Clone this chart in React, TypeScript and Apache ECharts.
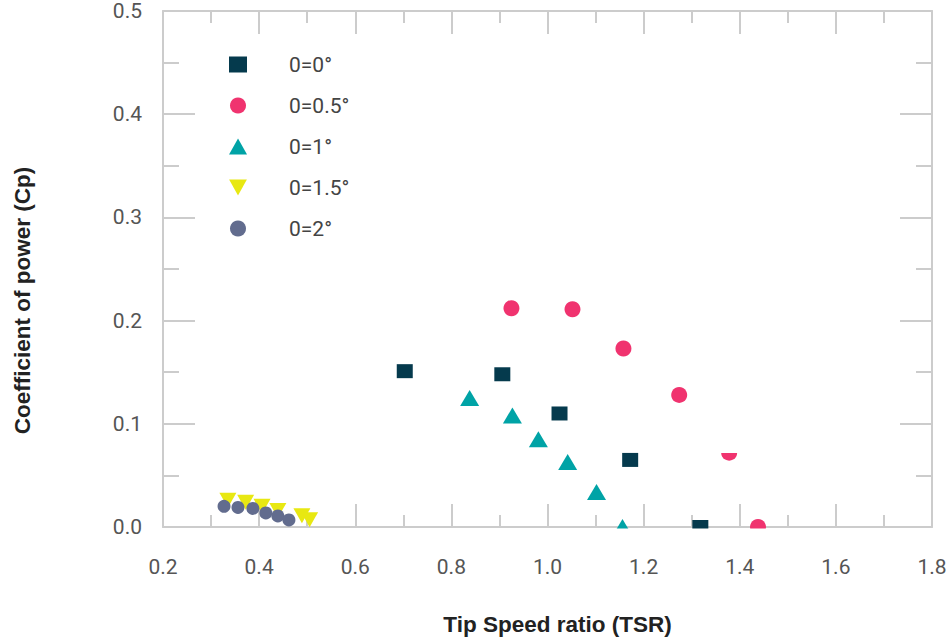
import React, { useEffect, useRef } from "react";
import * as echarts from "echarts";

const seriesNames = ["0=0°", "0=0.5°", "0=1°", "0=1.5°", "0=2°"];
const seriesColors = ["#053A4D", "#F0336F", "#00A3A6", "#E8E812", "#626C8E"];

const tsr0 = [0.703, 0.906, 1.025, 1.172, 1.318];
const cp0 = [0.151, 0.148, 0.11, 0.065, 0.0];

const tsr05 = [0.925, 1.052, 1.158, 1.274, 1.378, 1.438];
const cp05 = [0.212, 0.211, 0.173, 0.128, 0.072, 0.0];

const tsr1 = [0.838, 0.927, 0.981, 1.042, 1.102, 1.156];
const cp1 = [0.125, 0.108, 0.085, 0.063, 0.034, 0.0];

const tsr15 = [0.335, 0.372, 0.406, 0.439, 0.489, 0.505];
const cp15 = [0.026, 0.024, 0.02, 0.016, 0.011, 0.007];

const tsr2 = [0.327, 0.356, 0.387, 0.414, 0.439, 0.462];
const cp2 = [0.02, 0.019, 0.018, 0.0136, 0.0107, 0.0068];

const xTitle = "Tip Speed ratio (TSR)";
const yTitle = "Coefficient of power (Cp)";

const zip = (xs: number[], ys: number[]) => xs.map((x, i) => [x, ys[i]]);

export default function App() {
  const ref = useRef<HTMLDivElement>(null);
  useEffect(() => {
    if (!ref.current) return;
    const chart = echarts.init(ref.current, null, { renderer: "svg" });
    const axisColor = "#cccccc";
    const labelStyle = {
      fontFamily: "Roboto",
      fontWeight: 400,
      fontSize: 21,
      color: "#555555",
    };
    const xBase = {
      type: "value",
      min: 0.2,
      max: 1.8,
      interval: 0.2,
      splitLine: { show: false },
      axisLine: { show: true, onZero: false, lineStyle: { color: axisColor, width: 2 } },
      axisTick: { show: true, inside: true, length: 23, lineStyle: { color: axisColor, width: 2 } },
      minorTick: { show: true, splitNumber: 2, length: 12, lineStyle: { color: axisColor, width: 2 } },
    };
    const yBase = {
      type: "value",
      min: 0,
      max: 0.5,
      interval: 0.1,
      splitLine: { show: false },
      axisLine: { show: true, onZero: false, lineStyle: { color: axisColor, width: 2 } },
      axisTick: { show: true, inside: true, length: 32, lineStyle: { color: axisColor, width: 2 } },
      minorTick: { show: true, splitNumber: 2, length: 16, lineStyle: { color: axisColor, width: 2 } },
    };
    const symbols = ["rect", "circle", "triangle", "path://M0,0L10,0L5,9Z", "circle"];
    const sizes: any[] = [[16, 14], 16, [19, 16], [17, 15], 13];
    const datas = [zip(tsr0, cp0), zip(tsr05, cp05), zip(tsr1, cp1), zip(tsr15, cp15), zip(tsr2, cp2)];
    chart.setOption({
      animation: false,
      grid: { left: 163, right: 20, top: 11, bottom: 115 },
      legend: {
        orient: "vertical",
        left: 224,
        top: 49,
        itemWidth: 18,
        itemHeight: 16,
        itemGap: 20,
        textStyle: {
          fontFamily: "Roboto",
          fontWeight: 400,
          fontSize: 21,
          color: "#444444",
          padding: [0, 0, 0, 37],
        },
        data: seriesNames,
      },
      xAxis: [
        {
          ...xBase,
          position: "bottom",
          name: xTitle,
          nameLocation: "middle",
          nameGap: 86,
          nameTextStyle: {
            fontFamily: "Liberation Sans",
            fontWeight: "bold",
            fontSize: 22.5,
            color: "#222222",
            padding: [0, 0, 0, 20],
          },
          axisLabel: { ...labelStyle, margin: 29, formatter: (v: number) => v.toFixed(1) },
        },
        { ...xBase, position: "top", axisLabel: { show: false } },
      ],
      yAxis: [
        {
          ...yBase,
          position: "left",
          name: yTitle,
          nameLocation: "middle",
          nameGap: 129,
          nameTextStyle: {
            fontFamily: "Liberation Sans",
            fontWeight: "bold",
            fontSize: 22.5,
            color: "#222222",
            padding: [0, 63, 0, 0],
          },
          axisLabel: { ...labelStyle, margin: 21, formatter: (v: number) => v.toFixed(1) },
        },
        { ...yBase, position: "right", axisLabel: { show: false } },
      ],
      series: seriesNames.map((name, i) => ({
        name,
        type: "scatter",
        xAxisIndex: 0,
        yAxisIndex: 0,
        symbol: symbols[i],
        symbolSize: sizes[i],
        symbolKeepAspect: false,
        itemStyle: { color: seriesColors[i], opacity: 1 },
        emphasis: { disabled: true },
        data: datas[i],
      })),
      graphic: [
        {
          type: "rect",
          z: 100,
          shape: { x: 150, y: 528.5, width: 800, height: 16 },
          style: { fill: "#ffffff" },
        },
        {
          type: "rect",
          z: 100,
          shape: { x: 718, y: 440, width: 22, height: 13 },
          style: { fill: "#ffffff" },
        },
      ],
    });
    return () => chart.dispose();
  }, []);
  return (
    <div
      ref={ref}
      style={{ position: "fixed", left: 0, top: 0, width: 952, height: 642, background: "#ffffff" }}
    />
  );
}
